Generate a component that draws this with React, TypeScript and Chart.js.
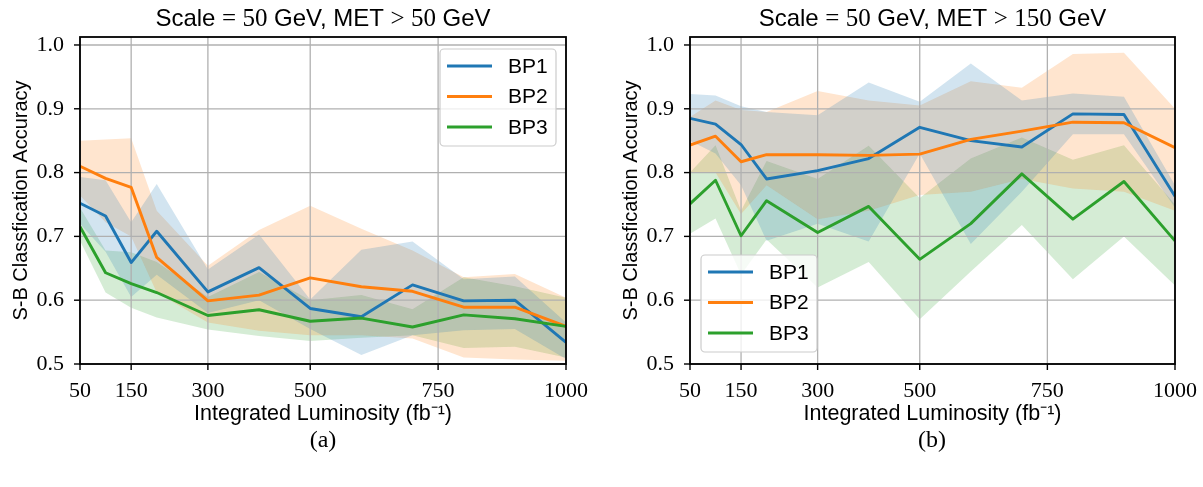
import React, { useEffect, useRef } from "react";
import { Chart, registerables } from "chart.js";
Chart.register(...registerables);

// ---------- data ----------
const luminosity = [50, 100, 150, 200, 300, 400, 500, 600, 700, 800, 900, 1000];
const xTicks = [50, 150, 300, 500, 750, 1000];
const yTicks = [0.5, 0.6, 0.7, 0.8, 0.9, 1.0];
const seriesNames = ["BP1", "BP2", "BP3"];
const seriesColors = ["#1f77b4", "#ff7f0e", "#2ca02c"];
const bandColors = ["rgba(31,119,180,0.2)", "rgba(255,127,14,0.2)", "rgba(44,160,44,0.2)"];
const yAxisTitle = "S-B Classfication Accuracy";
const xAxisTitle = "Integrated Luminosity (fb\u207B\u00B9)";

// panel (a): Scale = 50 GeV, MET > 50 GeV
const a_bp1 = [0.752, 0.732, 0.659, 0.708, 0.613, 0.651, 0.587, 0.574, 0.624, 0.599, 0.6, 0.534];
const a_bp1_hi = [0.793, 0.788, 0.722, 0.782, 0.648, 0.703, 0.601, 0.679, 0.692, 0.633, 0.637, 0.565];
const a_bp1_lo = [0.72, 0.676, 0.605, 0.64, 0.58, 0.6, 0.555, 0.514, 0.545, 0.553, 0.555, 0.508];
const a_bp2 = [0.81, 0.791, 0.777, 0.667, 0.599, 0.608, 0.635, 0.621, 0.614, 0.589, 0.589, 0.559];
const a_bp2_hi = [0.85, 0.852, 0.854, 0.74, 0.654, 0.71, 0.748, 0.712, 0.678, 0.636, 0.641, 0.604];
const a_bp2_lo = [0.764, 0.722, 0.7, 0.612, 0.565, 0.552, 0.545, 0.545, 0.54, 0.51, 0.507, 0.505];
const a_bp3 = [0.715, 0.643, 0.626, 0.612, 0.576, 0.585, 0.567, 0.572, 0.558, 0.577, 0.571, 0.559];
const a_bp3_hi = [0.745, 0.678, 0.675, 0.66, 0.605, 0.644, 0.6, 0.608, 0.586, 0.636, 0.622, 0.604];
const a_bp3_lo = [0.693, 0.612, 0.588, 0.573, 0.554, 0.544, 0.536, 0.541, 0.545, 0.525, 0.527, 0.51];

// panel (b): Scale = 50 GeV, MET > 150 GeV
const b_bp1 = [0.885, 0.876, 0.844, 0.79, 0.803, 0.822, 0.871, 0.85, 0.84, 0.892, 0.891, 0.763];
const b_bp1_hi = [0.923, 0.921, 0.904, 0.895, 0.89, 0.941, 0.911, 0.971, 0.913, 0.924, 0.919, 0.78];
const b_bp1_lo = [0.85, 0.83, 0.78, 0.693, 0.72, 0.692, 0.83, 0.688, 0.77, 0.86, 0.86, 0.745];
const b_bp2 = [0.843, 0.857, 0.817, 0.828, 0.828, 0.827, 0.829, 0.852, 0.865, 0.879, 0.878, 0.839];
const b_bp2_hi = [0.887, 0.913, 0.898, 0.895, 0.928, 0.913, 0.905, 0.943, 0.933, 0.986, 0.988, 0.9];
const b_bp2_lo = [0.8, 0.8, 0.735, 0.78, 0.727, 0.74, 0.765, 0.77, 0.79, 0.775, 0.77, 0.74];
const b_bp3 = [0.751, 0.788, 0.701, 0.756, 0.706, 0.747, 0.664, 0.72, 0.798, 0.727, 0.786, 0.693];
const b_bp3_hi = [0.8, 0.843, 0.74, 0.818, 0.79, 0.842, 0.76, 0.822, 0.855, 0.82, 0.843, 0.75];
const b_bp3_lo = [0.704, 0.728, 0.64, 0.695, 0.62, 0.66, 0.57, 0.645, 0.718, 0.633, 0.7, 0.623];

const titleA: [string, boolean][] = [["Scale ", false], ["= 50", true], [" GeV, MET ", false], ["> 50", true], [" GeV", false]];
const titleB: [string, boolean][] = [["Scale ", false], ["= 50", true], [" GeV, MET ", false], ["> 150", true], [" GeV", false]];

const SANS = '"Liberation Sans", Arial, sans-serif';
const SERIF = '"Liberation Serif", "Times New Roman", serif';
const CANVAS_H = 427;
const AXIS_BOTTOM = 364;

type PanelProps = {
  left: number;
  width: number;
  axisWidth: number;
  padRight: number;
  yTitlePad: number;
  title: [string, boolean][];
  means: number[][];
  his: number[][];
  los: number[][];
  legendPos: "ur" | "ll";
};

const toPts = (ys: number[]) => luminosity.map((x, i) => ({ x, y: ys[i] }));

function Panel(p: PanelProps) {
  const ref = useRef<HTMLCanvasElement>(null);
  useEffect(() => {
    if (!ref.current) return;
    const datasets: any[] = [];
    for (let s = 0; s < 3; s++) {
      datasets.push({
        label: seriesNames[s] + " hi",
        data: toPts(p.his[s]),
        borderWidth: 0,
        pointRadius: 0,
        fill: "+1",
        backgroundColor: bandColors[s],
        borderColor: "rgba(0,0,0,0)",
        order: 10,
      });
      datasets.push({
        label: seriesNames[s] + " lo",
        data: toPts(p.los[s]),
        borderWidth: 0,
        pointRadius: 0,
        fill: false,
        borderColor: "rgba(0,0,0,0)",
        order: 10,
      });
    }
    for (let s = 0; s < 3; s++) {
      datasets.push({
        label: seriesNames[s],
        data: toPts(p.means[s]),
        borderColor: seriesColors[s],
        borderWidth: 2.9,
        pointRadius: 0,
        fill: false,
        tension: 0,
        borderJoinStyle: "round",
        order: 2 - s,
      });
    }
    const deco = {
      id: "deco",
      beforeDatasetsDraw(chart: any) {
        const { ctx, chartArea: a, scales } = chart;
        const x = scales.x, y = scales.y;
        ctx.save();
        ctx.strokeStyle = "#b0b0b0";
        ctx.lineWidth = 1.3;
        for (const t of xTicks) {
          const px = x.getPixelForValue(t);
          ctx.beginPath();
          ctx.moveTo(px, a.top);
          ctx.lineTo(px, a.bottom);
          ctx.stroke();
        }
        for (const t of yTicks) {
          const py = y.getPixelForValue(t);
          ctx.beginPath();
          ctx.moveTo(a.left, py);
          ctx.lineTo(a.right, py);
          ctx.stroke();
        }
        ctx.restore();
      },
      afterDatasetsDraw(chart: any) {
        const { ctx, chartArea: a, scales } = chart;
        const x = scales.x, y = scales.y;
        ctx.save();
        // frame
        ctx.strokeStyle = "#000";
        ctx.lineWidth = 1.8;
        ctx.strokeRect(a.left, a.top, a.right - a.left, a.bottom - a.top);
        // tick marks
        ctx.lineWidth = 1.4;
        for (const t of xTicks) {
          const px = x.getPixelForValue(t);
          ctx.beginPath();
          ctx.moveTo(px, a.bottom);
          ctx.lineTo(px, a.bottom + 6);
          ctx.stroke();
        }
        for (const t of yTicks) {
          const py = y.getPixelForValue(t);
          ctx.beginPath();
          ctx.moveTo(a.left - 6, py);
          ctx.lineTo(a.left, py);
          ctx.stroke();
        }
        // legend
        const bw = 116, bh = 97;
        const bx = p.legendPos === "ur" ? a.right - 10 - bw : a.left + 11;
        const by = p.legendPos === "ur" ? a.top + 12 : a.bottom - 12 - bh;
        ctx.beginPath();
        ctx.roundRect(bx, by, bw, bh, 4);
        ctx.fillStyle = "rgba(255,255,255,0.8)";
        ctx.fill();
        ctx.strokeStyle = "#cccccc";
        ctx.lineWidth = 1.2;
        ctx.stroke();
        ctx.font = "21px " + SANS;
        ctx.textBaseline = "middle";
        ctx.textAlign = "left";
        for (let s = 0; s < 3; s++) {
          const yy = by + 17 + s * 30.5;
          ctx.strokeStyle = seriesColors[s];
          ctx.lineWidth = 2.9;
          ctx.beginPath();
          ctx.moveTo(bx + 7, yy);
          ctx.lineTo(bx + 52, yy);
          ctx.stroke();
          ctx.fillStyle = "#000";
          ctx.fillText(seriesNames[s], bx + 68, yy + 1);
        }
        // title
        ctx.textBaseline = "alphabetic";
        let total = 0;
        const fontFor = (serif: boolean) => (serif ? "25px " + SERIF : "24px " + SANS);
        const widths = p.title.map(([txt, serif]) => {
          ctx.font = fontFor(serif);
          const w = ctx.measureText(txt).width;
          total += w;
          return w;
        });
        let cx = (a.left + a.right) / 2 - total / 2;
        p.title.forEach(([txt, serif], i) => {
          ctx.font = fontFor(serif);
          ctx.fillStyle = "#000";
          ctx.fillText(txt, cx, 26);
          cx += widths[i];
        });
        ctx.restore();
      },
    };
    const chart = new Chart(ref.current, {
      type: "line",
      data: { datasets },
      options: {
        animation: false,
        responsive: false,
        maintainAspectRatio: false,
        layout: { padding: { top: 37, right: p.padRight, left: 0, bottom: 0 } },
        plugins: {
          legend: { display: false },
          tooltip: { enabled: false },
          filler: { drawTime: "beforeDatasetsDraw" },
        } as any,
        scales: {
          x: {
            type: "linear",
            min: 50,
            max: 1000,
            grid: { display: false },
            border: { display: false },
            afterBuildTicks: (s: any) => {
              s.ticks = xTicks.map((v) => ({ value: v }));
            },
            afterFit: (s: any) => {
              s.height = CANVAS_H - AXIS_BOTTOM;
            },
            ticks: {
              autoSkip: false,
              maxRotation: 0,
              padding: 6,
              color: "#000",
              font: { family: SERIF, size: 22 },
              callback: (v: any) => String(v),
            },
            title: {
              display: true,
              text: xAxisTitle,
              color: "#000",
              font: { family: SANS, size: 21.5 },
              padding: { top: 0, bottom: 0 },
            },
          },
          y: {
            type: "linear",
            min: 0.5,
            max: 1.0125,
            grid: { display: false },
            border: { display: false },
            afterBuildTicks: (s: any) => {
              s.ticks = yTicks.map((v) => ({ value: v }));
            },
            afterFit: (s: any) => {
              s.width = p.axisWidth;
            },
            ticks: {
              padding: 8,
              color: "#000",
              font: { family: SERIF, size: 22 },
              callback: (v: any) => Number(v).toFixed(1),
            },
            title: {
              display: true,
              text: yAxisTitle,
              color: "#000",
              font: { family: SANS, size: 20 },
              padding: { top: p.yTitlePad, bottom: 0 },
            },
          },
        },
      },
      plugins: [deco],
    } as any);
    return () => chart.destroy();
  }, []);
  return (
    <canvas
      ref={ref}
      width={p.width}
      height={CANVAS_H}
      style={{ position: "absolute", left: p.left, top: 0, width: p.width, height: CANVAS_H }}
    />
  );
}

export default function App() {
  return (
    <div style={{ position: "absolute", left: 0, top: 0, width: 1203, height: 487, background: "#fff" }}>
      <Panel
        left={0}
        width={600}
        axisWidth={80}
        padRight={34}
        yTitlePad={9}
        title={titleA}
        means={[a_bp1, a_bp2, a_bp3]}
        his={[a_bp1_hi, a_bp2_hi, a_bp3_hi]}
        los={[a_bp1_lo, a_bp2_lo, a_bp3_lo]}
        legendPos="ur"
      />
      <Panel
        left={600}
        width={603}
        axisWidth={90}
        padRight={27}
        yTitlePad={19}
        title={titleB}
        means={[b_bp1, b_bp2, b_bp3]}
        his={[b_bp1_hi, b_bp2_hi, b_bp3_hi]}
        los={[b_bp1_lo, b_bp2_lo, b_bp3_lo]}
        legendPos="ll"
      />
      <div style={{ position: "absolute", left: 273, top: 426, width: 100, textAlign: "center", font: "24px " + SERIF, color: "#000" }}>
        (a)
      </div>
      <div style={{ position: "absolute", left: 882, top: 426, width: 100, textAlign: "center", font: "24px " + SERIF, color: "#000" }}>
        (b)
      </div>
    </div>
  );
}
